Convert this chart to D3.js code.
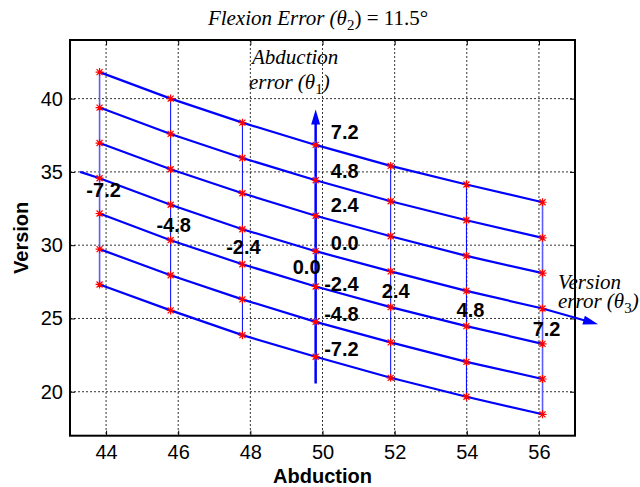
<!DOCTYPE html>
<html>
<head>
<meta charset="utf-8">
<script src="https://cdn.jsdelivr.net/npm/d3@7"></script>
<style>
  body { margin: 0; background: #fff; }
  svg { display: block; }
</style>
</head>
<body>
<div id="chart"></div>
<script>
// chart values
const xTicks = [44, 46, 48, 50, 52, 54, 56];
const yTicks = [20, 25, 30, 35, 40];

// abduction position of each version-error column
const abduction = [43.82, 45.79, 47.78, 49.81, 51.89, 53.99, 56.10];
// version error label of each column
const versionErr = ["-7.2", "-4.8", "-2.4", "0.0", "2.4", "4.8", "7.2"];
// abduction error label of each row (top to bottom)
const abductionErr = ["7.2", "4.8", "2.4", "0.0", "-2.4", "-4.8", "-7.2"];

// version values, one array per column, rows top to bottom
const col0 = [41.81, 39.39, 36.97, 34.57, 32.16, 29.73, 27.32];
const col1 = [40.00, 37.59, 35.18, 32.76, 30.34, 27.95, 25.55];
const col2 = [38.36, 35.95, 33.54, 31.09, 28.70, 26.30, 23.86];
const col3 = [36.84, 34.43, 32.01, 29.59, 27.18, 24.77, 22.39];
const col4 = [35.41, 33.00, 30.61, 28.21, 25.77, 23.37, 20.95];
const col5 = [34.14, 31.70, 29.27, 26.88, 24.48, 22.04, 19.66];
const col6 = [32.93, 30.50, 28.09, 25.68, 23.27, 20.87, 18.46];
const version = [col0, col1, col2, col3, col4, col5, col6];

// arrow ends (data units)
const abdArrow = { from: 20.57, to: 39.25 };          // along column 3
const verArrow = { start: [43.28, 35.0], tip: [57.64, 24.61] }; // extends row 3

const width = 640, height = 487;
const svg = d3.select("#chart").append("svg")
    .attr("width", width)
    .attr("height", height);

const x = d3.scaleLinear().domain([43, 57]).range([70, 575]);
const y = d3.scaleLinear().domain([17, 44]).range([435.7, 40]);
const x0 = x.range()[0], x1 = x.range()[1];
const y0 = y.range()[1], y1 = y.range()[0];

// grid (dotted)
const grid = svg.append("g").attr("class", "grid");
grid.selectAll("line.vx").data(xTicks).enter().append("line")
    .attr("x1", d => x(d)).attr("x2", d => x(d))
    .attr("y1", y0).attr("y2", y1);
grid.selectAll("line.hy").data(yTicks).enter().append("line")
    .attr("x1", x0).attr("x2", x1)
    .attr("y1", d => y(d)).attr("y2", d => y(d));
grid.selectAll("line")
    .attr("stroke", "#000")
    .attr("stroke-width", 0.8)
    .attr("stroke-dasharray", "2,2");

// axes: inward ticks on all four sides
const tick = 5;
const axB = svg.append("g").attr("transform", `translate(0,${y1})`)
    .call(d3.axisBottom(x).tickValues(xTicks).tickSizeInner(-tick).tickSizeOuter(0).tickPadding(9));
const axT = svg.append("g").attr("transform", `translate(0,${y0})`)
    .call(d3.axisTop(x).tickValues(xTicks).tickSizeInner(-tick).tickSizeOuter(0).tickFormat(""));
const axL = svg.append("g").attr("transform", `translate(${x0},0)`)
    .call(d3.axisLeft(y).tickValues(yTicks).tickSizeInner(-tick).tickSizeOuter(0).tickPadding(7));
const axR = svg.append("g").attr("transform", `translate(${x1},0)`)
    .call(d3.axisRight(y).tickValues(yTicks).tickSizeInner(-tick).tickSizeOuter(0).tickFormat(""));

[axB, axT, axL, axR].forEach(g => {
    g.select(".domain").remove();
    g.selectAll(".tick line").attr("stroke", "#000").attr("stroke-width", 1);
    g.selectAll("text")
        .attr("fill", "#000")
        .style("font-family", "Liberation Sans, Arial, sans-serif")
        .style("font-size", "20px");
});

// frame
svg.append("rect")
    .attr("x", x0).attr("y", y0)
    .attr("width", x1 - x0).attr("height", y1 - y0)
    .attr("fill", "none")
    .attr("stroke", "#000")
    .attr("stroke-width", 2);

// vertical lines (constant version error)
abduction.forEach((a, i) => {
    const vals = version[i];
    const edge = i === 0 || i === 6;
    svg.append("line")
        .attr("x1", x(a)).attr("x2", x(a))
        .attr("y1", y(d3.max(vals))).attr("y2", y(d3.min(vals)))
        .attr("stroke", edge ? "#5c5cff" : "#0000ff")
        .attr("stroke-width", edge ? 1.6 : 1);
});

// sloped lines (constant abduction error)
const line = d3.line().x(d => x(d[0])).y(d => y(d[1]));
abductionErr.forEach((e, r) => {
    const pts = abduction.map((a, c) => [a, version[c][r]]);
    svg.append("path")
        .attr("d", line(pts))
        .attr("fill", "none")
        .attr("stroke", "#0000ff")
        .attr("stroke-width", 2.2);
});

// arrowhead helper
function arrowHead(tx, ty, angle) {
    const len = 15, half = 4.5;
    const ca = Math.cos(angle), sa = Math.sin(angle);
    const bx = tx - len * ca, by = ty - len * sa;
    const pts = [[tx, ty], [bx - half * sa, by + half * ca], [bx + half * sa, by - half * ca]];
    svg.append("path")
        .attr("d", "M" + pts.map(p => p.join(",")).join("L") + "Z")
        .attr("fill", "#0000ff");
}

// abduction error arrow (vertical, through column 3)
const ax = x(abduction[3]);
svg.append("line")
    .attr("x1", ax).attr("x2", ax)
    .attr("y1", y(abdArrow.from)).attr("y2", y(abdArrow.to) + 10)
    .attr("stroke", "#0000ff")
    .attr("stroke-width", 2.5);
arrowHead(ax, y(abdArrow.to), -Math.PI / 2);

// version error arrow (extends the 0.0 row)
const r0 = [abduction[0], version[0][3]];
const r6 = [abduction[6], version[6][3]];
svg.append("path")
    .attr("d", line([verArrow.start, r0]))
    .attr("stroke", "#0000ff").attr("stroke-width", 2.2).attr("fill", "none");
const tipX = x(verArrow.tip[0]), tipY = y(verArrow.tip[1]);
const ang = Math.atan2(tipY - y(r6[1]), tipX - x(r6[0]));
svg.append("line")
    .attr("x1", x(r6[0])).attr("y1", y(r6[1]))
    .attr("x2", tipX - 10 * Math.cos(ang)).attr("y2", tipY - 10 * Math.sin(ang))
    .attr("stroke", "#0000ff").attr("stroke-width", 2.2);
arrowHead(tipX, tipY, ang);

// star markers
const star = "M-4,0H4M0,-4V4M-3,-3L3,3M-3,3L3,-3";
const points = [];
abduction.forEach((a, c) => version[c].forEach(v => points.push([a, v])));
svg.selectAll("path.star").data(points).enter().append("path")
    .attr("class", "star")
    .attr("transform", d => `translate(${x(d[0])},${y(d[1])})`)
    .attr("d", star)
    .attr("stroke", "#ff0000")
    .attr("stroke-width", 1.2)
    .attr("fill", "none");

// row labels (abduction error), right of the vertical arrow
const rowDy = [-13, -9, -11, -8, -3, -8, -8];
svg.selectAll("text.rowlab").data(abductionErr).enter().append("text")
    .attr("class", "rowlab")
    .attr("x", ax + 43)
    .attr("y", (d, r) => y(version[3][r]) + rowDy[r])
    .attr("dy", "0.36em")
    .attr("text-anchor", "end")
    .style("font-family", "Liberation Sans, Arial, sans-serif")
    .style("font-weight", "bold")
    .style("font-size", "20px")
    .text(d => d);

// column labels (version error), below the 0.0 row
const colDx = [4, 3, 1, -9, 5, 4, 4];
const colDy = [12, 20, 18, 16, 19, 19, 20];
svg.selectAll("text.collab").data(versionErr).enter().append("text")
    .attr("class", "collab")
    .attr("x", (d, c) => x(abduction[c]) + colDx[c])
    .attr("y", (d, c) => y(version[c][3]) + colDy[c])
    .attr("dy", "0.36em")
    .attr("text-anchor", "middle")
    .style("font-family", "Liberation Sans, Arial, sans-serif")
    .style("font-weight", "bold")
    .style("font-size", "20px")
    .text(d => d);

// serif italic annotations
function thetaText(tx, ty, pre, sub, post) {
    const t = svg.append("text")
        .attr("x", tx).attr("y", ty)
        .style("font-family", "Liberation Serif, Times New Roman, serif")
        .style("font-style", "italic")
        .style("font-size", "21px");
    t.append("tspan").text(pre);
    t.append("tspan").attr("dy", 5).style("font-size", "15px").style("font-style", "normal").text(sub);
    t.append("tspan").attr("dy", -5).text(post);
    return t;
}

svg.append("text")
    .attr("x", 252).attr("y", 64)
    .style("font-family", "Liberation Serif, Times New Roman, serif")
    .style("font-style", "italic")
    .style("font-size", "21px")
    .text("Abduction");
thetaText(249, 89, "error (\u03b8", "1", ")");

svg.append("text")
    .attr("x", 558).attr("y", 289)
    .style("font-family", "Liberation Serif, Times New Roman, serif")
    .style("font-style", "italic")
    .style("font-size", "21px")
    .text("Version");
thetaText(558, 308, "error (\u03b8", "3", ")");

// title
const title = svg.append("text")
    .attr("x", 318).attr("y", 25)
    .attr("text-anchor", "middle")
    .style("font-family", "Liberation Serif, Times New Roman, serif")
    .style("font-size", "21px");
title.append("tspan").style("font-style", "italic").text("Flexion Error (\u03b8");
title.append("tspan").attr("dy", 5).style("font-size", "15px").text("2");
title.append("tspan").attr("dy", -5).text(") = 11.5\u00b0");

// axis titles
svg.append("text")
    .attr("x", (x0 + x1) / 2).attr("y", 483)
    .attr("text-anchor", "middle")
    .style("font-family", "Liberation Sans, Arial, sans-serif")
    .style("font-weight", "bold")
    .style("font-size", "20px")
    .text("Abduction");

svg.append("text")
    .attr("transform", `translate(28,${(y0 + y1) / 2}) rotate(-90)`)
    .attr("text-anchor", "middle")
    .style("font-family", "Liberation Sans, Arial, sans-serif")
    .style("font-weight", "bold")
    .style("font-size", "20px")
    .text("Version");
</script>
</body>
</html>
